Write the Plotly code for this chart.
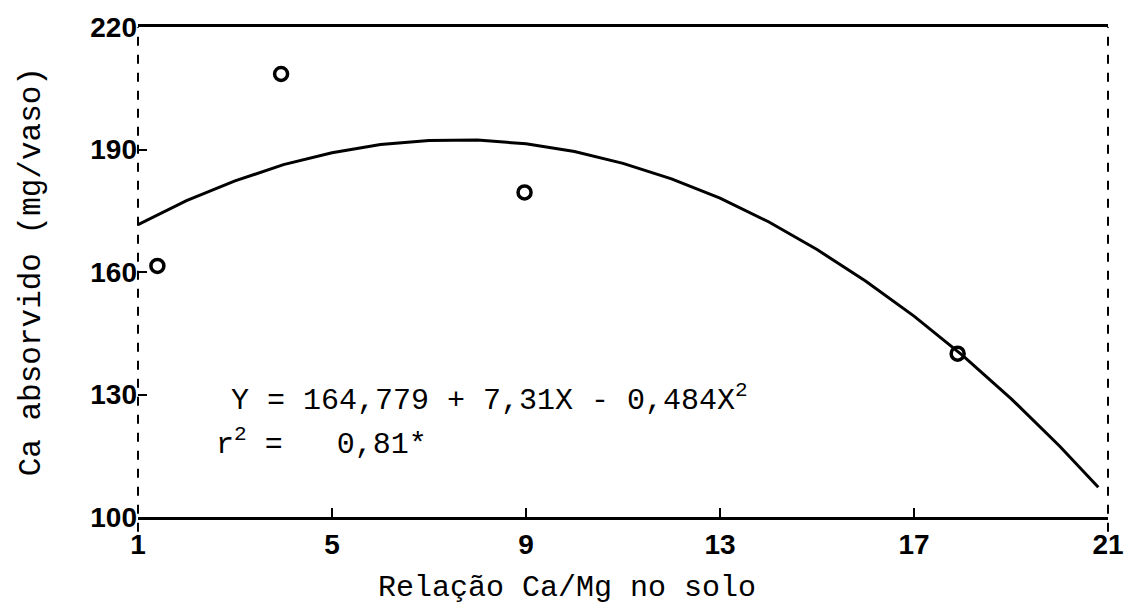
import plotly.graph_objects as go

obs_x = [1.4, 3.95, 8.97, 17.9]
obs_y = [161.5, 208.5, 179.5, 140.0]

# Fitted curve, points
fit_x = [1, 2, 3, 4, 5, 6, 7, 8, 9, 10, 11, 12, 13, 14, 15, 16, 17, 18, 19, 20, 20.8]
fit_y = [171.6, 177.5, 182.3, 186.3, 189.2, 191.2, 192.2, 192.3, 191.4, 189.5, 186.6,
         182.8, 178.1, 172.3, 165.5, 157.8, 149.2, 139.6, 129.0, 117.4, 107.3]

x_ticks = [1, 5, 9, 13, 17, 21]
y_ticks = [100, 130, 160, 190, 220]

x_title = "Relação Ca/Mg no solo"
y_title = "Ca absorvido (mg/vaso)"
eq_text = "Y = 164,779 + 7,31X - 0,484X<sup>2</sup>"
r2_text = "r<sup>2</sup> =   0,81*"

fig = go.Figure()
fig.add_trace(go.Scatter(x=fit_x, y=fit_y, mode="lines",
                         line=dict(color="black", width=3), showlegend=False))
fig.add_trace(go.Scatter(x=obs_x, y=obs_y, mode="markers",
                         marker=dict(symbol="circle-open", size=13, color="black",
                                     line=dict(width=3.5, color="black")),
                         showlegend=False))

tickfont = dict(family="Liberation Sans, Arial, sans-serif", size=28, color="black")
monofont = "Liberation Mono, Courier New, monospace"

fig.update_layout(
    width=1136, height=607,
    margin=dict(l=138, r=16, t=22, b=90),
    paper_bgcolor="white", plot_bgcolor="white",
    xaxis=dict(range=[1, 21], tickvals=x_ticks,
               ticktext=["<b>%d</b>" % v for v in x_ticks],
               ticks="inside", ticklen=9, tickwidth=2, tickcolor="black",
               ticklabeloverflow="allow",
               showline=True, linecolor="black", linewidth=3, mirror=True,
               showgrid=False, zeroline=False, tickfont=tickfont),
    yaxis=dict(range=[100, 220], tickvals=y_ticks,
               ticktext=["<b>%d</b>" % v for v in y_ticks],
               ticks="inside", ticklen=9, tickwidth=2, tickcolor="black",
               ticklabeloverflow="allow",
               showline=False, showgrid=False, zeroline=False, tickfont=tickfont),
)

# axis titles
fig.add_annotation(x=0.442, y=-0.145, xref="paper", yref="paper", text=x_title,
                   showarrow=False, xanchor="center", yanchor="middle",
                   font=dict(family=monofont, size=30, color="black"))
fig.add_annotation(x=-0.11, y=0.5, xref="paper", yref="paper", text=y_title,
                   showarrow=False, xanchor="center", yanchor="middle", textangle=-90,
                   font=dict(family=monofont, size=31, color="black"))

# dashed left and right frame lines
for xp in [0, 1]:
    fig.add_shape(type="line", xref="paper", yref="paper", x0=xp, x1=xp, y0=-0.03, y1=1,
                  line=dict(color="black", width=2, dash="dash"))

eqfont = dict(family=monofont, size=30, color="black")
fig.add_annotation(x=0.0935, y=0.242, xref="paper", yref="paper", text=eq_text,
                   showarrow=False, xanchor="left", yanchor="middle", font=eqfont)
fig.add_annotation(x=0.078, y=0.152, xref="paper", yref="paper", text=r2_text,
                   showarrow=False, xanchor="left", yanchor="middle", font=eqfont)

fig.write_html("out.html")
